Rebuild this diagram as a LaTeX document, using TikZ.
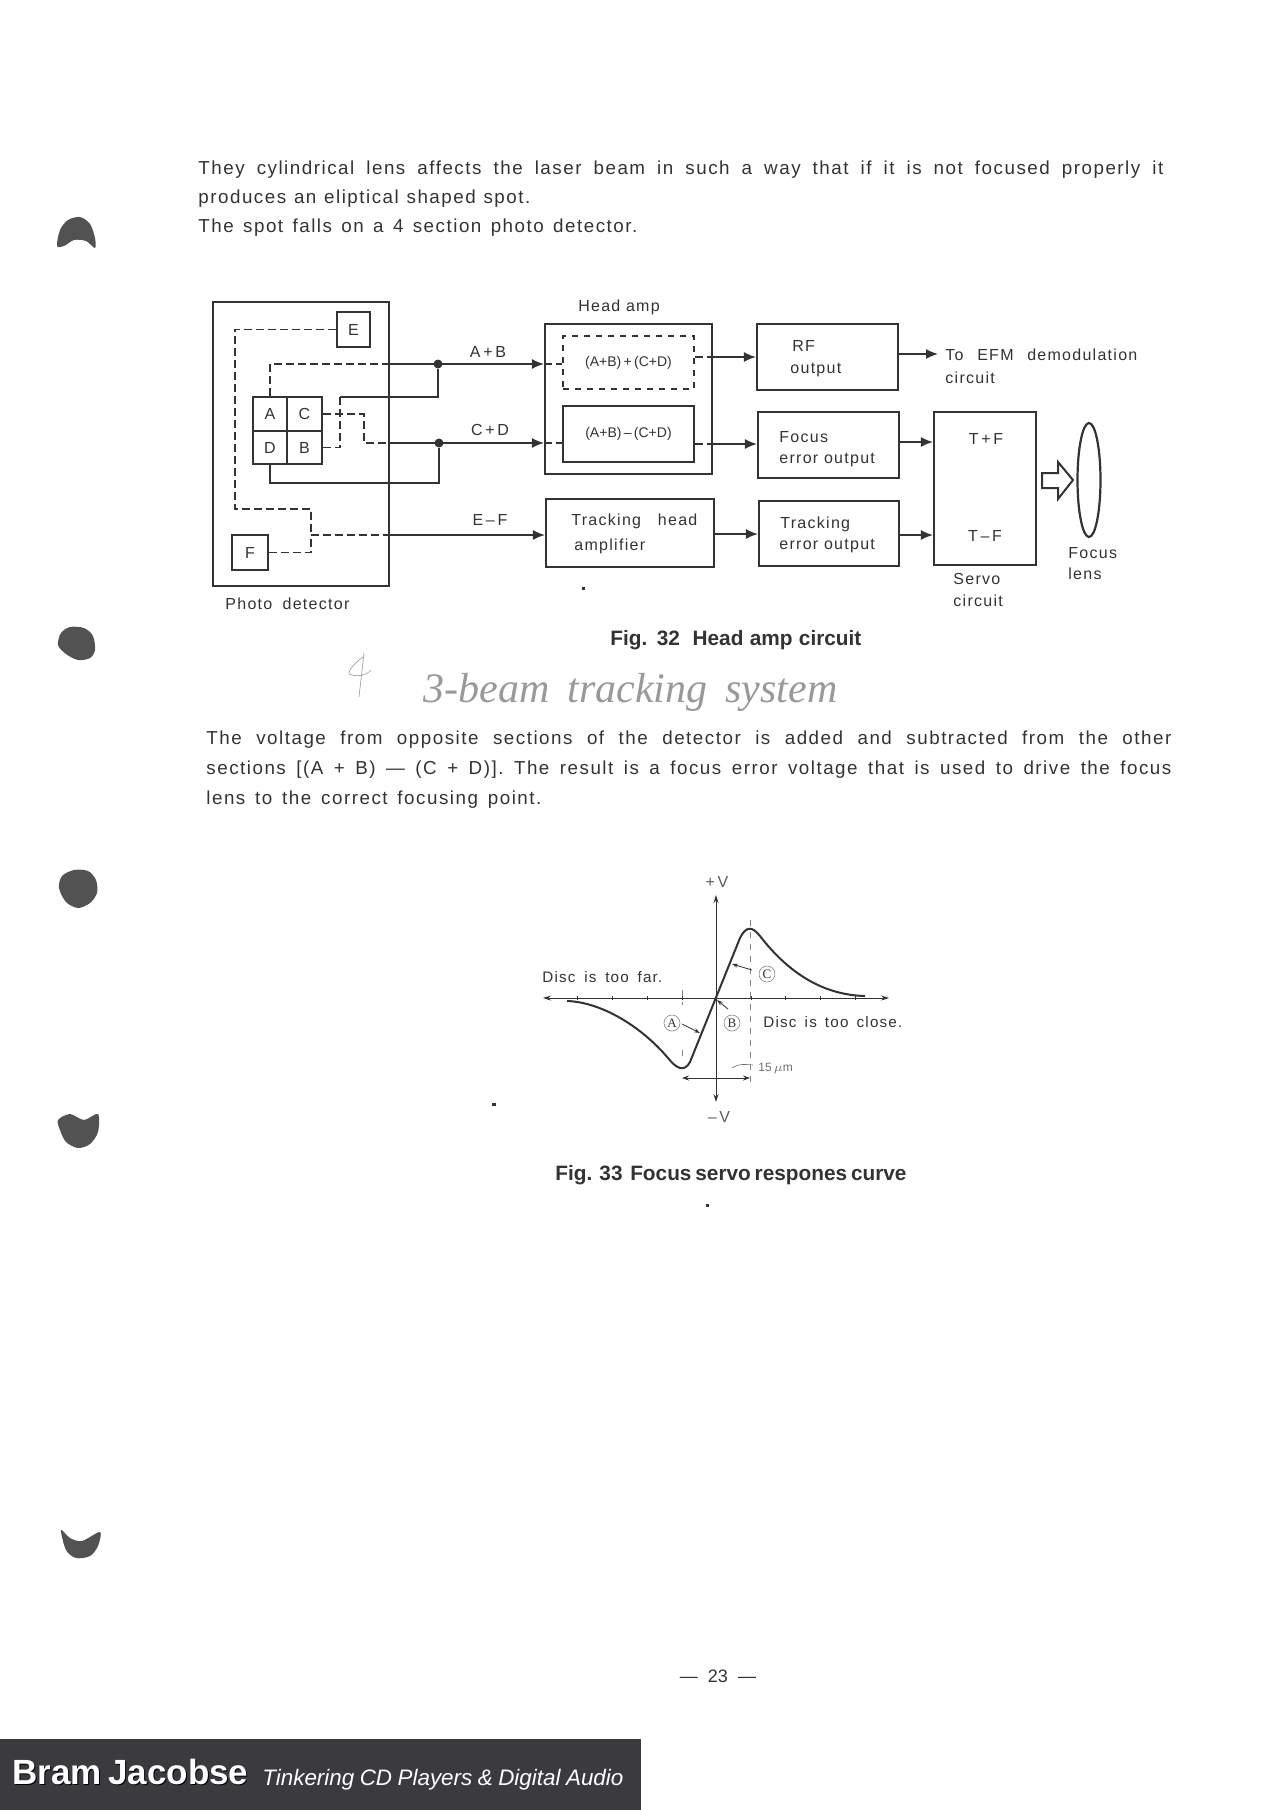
\documentclass[tikz,border=0pt]{standalone}
\usepackage{fontspec}
\setmainfont{Liberation Sans}
\newfontfamily\scanfont[LetterSpace=8]{Liberation Sans}
\newfontfamily\pencilfont{Liberation Serif}
\usetikzlibrary{arrows.meta,positioning,calc,shapes.geometric}
\definecolor{ink}{HTML}{333333}
\definecolor{banner}{HTML}{3A3A3F}
\newcommand{\fitline}[2]{\makebox[#1][s]{#2}}

\begin{document}
\begin{tikzpicture}[
    x=0.5pt, y=-0.5pt,
    line cap=butt,
    box/.style={rectangle, draw=ink, line width=1.1pt, inner sep=0pt},
    cell/.style={box, line width=0.9pt, font=\fontsize{8}{9}\scanfont, text=ink},
    lbl/.style={inner sep=0pt, font=\fontsize{8}{9}\scanfont, text=ink},
    lblw/.style={lbl, anchor=base west},
    para/.style={inner sep=0pt, anchor=base west, font=\fontsize{9.4}{11}\scanfont, text=ink},
    capt/.style={inner sep=0pt, anchor=base west, font=\fontsize{10.4}{12}\bfseries, text=ink},
    dashline/.style={ink, line width=0.7pt, dash pattern=on 4pt off 2pt},
    wire/.style={ink, line width=0.7pt},
    flow/.style={wire, -{Latex[length=6pt,width=5pt]}},
    dimflow/.style={ink, line width=0.4pt, -{Stealth[length=3pt,width=2pt]}},
    dimboth/.style={ink, line width=0.4pt, {Stealth[length=3.5pt,width=2.5pt]}-{Stealth[length=3.5pt,width=2.5pt]}},
    mark letter/.style={circle, draw=ink!60, line width=0.3pt, inner sep=0.6pt, minimum size=8pt, font=\fontsize{6.5}{7}\pencilfont, text=ink},
    junction/.style={circle, fill=ink, inner sep=0pt, minimum size=4.5pt},
    blob/.style={fill=black!68, draw=none},
    speck/.style={fill=ink, draw=none}
]
\useasboundingbox (0,0) rectangle (1280,1810);
\fill[white] (0,0) rectangle (1280,1810);

% punch holes
\fill[blob] plot[smooth cycle] coordinates {(57,246) (60,230) (68,220) (80,217) (90,224) (95,238) (95,248) (86,241) (74,240) (64,246)};
\fill[blob] plot[smooth cycle] coordinates {(58,645) (61,633) (70,627) (84,628) (93,636) (95,650) (90,658) (78,660) (66,654)};
\fill[blob] plot[smooth cycle] coordinates {(59,888) (62,876) (74,870) (88,871) (96,880) (97,893) (90,903) (78,908) (66,902)};
\fill[blob] plot[smooth cycle] coordinates {(58,1120) (70,1114) (84,1120) (98,1114) (98,1132) (90,1144) (78,1148) (66,1142) (60,1130)};
\fill[blob] plot[smooth cycle] coordinates {(61,1530) (70,1538) (82,1541) (100,1532) (98,1546) (90,1556) (76,1558) (66,1550)};

% upper paragraph
\node[para] (top1) at (198,174) {\fitline{482.5pt}{They cylindrical lens affects the laser beam in such a way that if it is not focused properly it}};
\node[para] (top2) at (198,203) {\fitline{166pt}{produces an eliptical shaped spot.}};
\node[para] (top3) at (198,232) {\fitline{219.5pt}{The spot falls on a 4 section photo detector.}};

% photo detector
\node[box, minimum width=88pt, minimum height=142pt] (pd) at (301,444) {};
\node[cell, minimum width=16.5pt, minimum height=17.5pt] (boxe) at (353.5,329.5) {E};
\node[cell, minimum width=18pt, minimum height=17.5pt] (boxf) at (250,552.5) {F};
\node[cell, minimum width=17pt, minimum height=17pt] (ca) at (270,414) {A};
\node[cell, minimum width=17.5pt, minimum height=17pt] (cc) at (304.5,414) {C};
\node[cell, minimum width=17pt, minimum height=16.5pt] (cd) at (270,447.5) {D};
\node[cell, minimum width=17.5pt, minimum height=16.5pt] (cb) at (304.5,447.5) {B};
\node[lblw] (pdlabel) at (225,609) {\fitline{62pt}{Photo detector}};

% head amp
\node[box, minimum width=83.5pt, minimum height=75pt] (head) at (628.5,399) {};
\node[box, dashed, line width=0.8pt, minimum width=65.5pt, minimum height=26.5pt, font=\fontsize{7}{8}\selectfont, text=ink] (sum) at (628.5,362.5) {(A+B)\,+\,(C+D)};
\node[box, line width=0.8pt, minimum width=65.5pt, minimum height=28pt, font=\fontsize{7}{8}\selectfont, text=ink] (diff) at (628.5,434) {(A+B)\,–\,(C+D)};
\node[lbl] (headlabel) at (619,307) {Head amp};
\node[box, minimum width=84pt, minimum height=34pt] (track) at (630,533) {};
\node[lblw] (track1) at (571,525) {\fitline{63pt}{Tracking ~ head}};
\node[lblw] (track2) at (574,550) {amplifier};

% outputs
\node[box, minimum width=70.5pt, minimum height=33pt] (rf) at (827.5,357) {};
\node[lblw] (rf1) at (792,351) {RF};
\node[lblw] (rf2) at (790,373) {output};
\node[box, minimum width=70.5pt, minimum height=33pt] (focus) at (828.5,445) {};
\node[lblw] (focus1) at (779,442) {Focus};
\node[lblw] (focus2) at (779,463) {error output};
\node[box, minimum width=70pt, minimum height=32.5pt] (terr) at (829,533.5) {};
\node[lblw] (terr1) at (780,528) {Tracking};
\node[lblw] (terr2) at (779,549) {error output};

% servo and lens
\node[box, minimum width=51pt, minimum height=76.5pt] (servo) at (985,488.5) {};
\node[lbl] (tplus) at (986,439) {T\,+\,F};
\node[lbl] (tminus) at (985,536) {T\,–\,F};
\node[lblw] (servo1) at (953,584) {Servo};
\node[lblw] (servo2) at (953,606) {circuit};
\node[ellipse, draw=ink, line width=1.1pt, minimum width=11.5pt, minimum height=57pt, inner sep=0pt] (lens) at (1089,480) {};
\node[lblw] (lens1) at (1068,558) {Focus};
\node[lblw] (lens2) at (1068,579) {lens};
\node[lblw] (efm1) at (945,360) {\fitline{96pt}{To EFM demodulation}};
\node[lblw] (efm2) at (945,383) {circuit};

% signal labels
\node[lbl] (ab) at (488,352) {A\,+\,B};
\node[lbl] (cdl) at (490,430) {C\,+\,D};
\node[lbl] (ef) at (490,520) {E\,–\,F};

% junctions
\node[junction] (dot1) at (438,364) {};
\node[junction] (dot2) at (439,443) {};
\coordinate (inab) at (head.west |- dot1);
\coordinate (incd) at (head.west |- dot2);
\coordinate (pdab) at (pd.east |- dot1);
\coordinate (pdcd) at (pd.east |- dot2);
\coordinate (jef) at (311,535);
\coordinate (pdef) at (pd.east |- jef);
\coordinate (inef) at (track.west |- jef);

% detector wiring
\draw[dashline] (boxe.west) -| (235,509) -| (jef);
\draw[dashline] (boxf.east) -| (jef);
\draw[dashline] (jef) -- (pdef);
\draw[flow] (pdef) -- (inef);
\draw[dashline] (ca.north) |- (pdab);
\draw[flow] (pdab) -- (inab);
\draw[wire] (dot1) |- (340,397);
\draw[dashline] (340,397) |- (cb.east);
\draw[dashline] (cc.east) -| (364,443) -- (pdcd);
\draw[flow] (pdcd) -- (incd);
\draw[wire] (cd.south) |- (dot2 |- 0,483) -- (dot2);

% head amp stubs and outputs
\draw[dashline] (inab) -- (sum.west |- inab);
\draw[dashline] (incd) -- (diff.west |- incd);
\draw[dashline] (sum.east |- 0,357) -- (head.east |- 0,357);
\draw[dashline] (diff.east |- 0,444) -- (head.east |- 0,444);
\draw[flow] (head.east |- 0,357) -- (rf.west |- 0,357);
\draw[flow] (head.east |- 0,444) -- (focus.west |- 0,444);
\draw[flow] (track.east |- 0,534) -- (terr.west |- 0,534);
\draw[flow] (rf.east |- 0,354) -- (938,354);
\draw[flow] (focus.east |- 0,442) -- (servo.west |- 0,442);
\draw[flow] (terr.east |- 0,535) -- (servo.west |- 0,535);
\draw[ink, line width=1pt, fill=white] (1042,473) -- (1058,473) -- (1058,462) -- (1073,480) -- (1058,499) -- (1058,488) -- (1042,488) -- cycle;

\node[capt] (fig32) at (610,645) {\fitline{125.5pt}{Fig. 32 ~Head amp circuit}};

% pencil note
\draw[black!40, line width=0.3pt] (364,653) -- (359,697);
\draw[black!40, line width=0.3pt] (363,657) .. controls (356,662) and (348,670) .. (349,674) .. controls (356,677) and (366,676) .. (371,670);
\node[inner sep=0pt, anchor=base west, font=\fontsize{21}{24}\pencilfont\itshape, text=black!40] (note) at (423,702) {\fitline{207pt}{3-beam tracking system}};

% lower paragraph
\node[para] (low1) at (206,744) {\fitline{482.5pt}{The voltage from opposite sections of the detector is added and subtracted from the other}};
\node[para] (low2) at (206,774) {\fitline{482.5pt}{sections [(A + B) — (C + D)]. The result is a focus error voltage that is used to drive the focus}};
\node[para] (low3) at (206,804) {\fitline{167.5pt}{lens to the correct focusing point.}};

% response curve
\coordinate (orig) at (716,998);
\draw[ink, line width=0.4pt, {Stealth[length=4pt,width=2.5pt]}-{Stealth[length=4pt,width=2.5pt]}] (543,998) -- (889,998);
\draw[ink, line width=0.5pt, {Stealth[length=4pt,width=2.5pt]}-{Stealth[length=4pt,width=2.5pt]}] (716,895) -- (716,1102);
\foreach \tick in {577,612,647,682,751,785,820,855}
    \draw[ink, line width=0.3pt] (\tick,996) -- (\tick,1000);
\draw[ink!60, line width=0.3pt, dashed] (682,990) -- (682,1005);
\draw[ink!60, line width=0.3pt, dashed] (682,1050) -- (682,1058);
\draw[ink!60, line width=0.3pt, dashed] (750,920) -- (750,1085);
\draw[ink, line width=1pt] (567,1001) .. controls (600,1002) and (640,1025) .. (668,1058) .. controls (676,1068) and (684,1073) .. (690,1062) -- (740,938) .. controls (746,926) and (752,926) .. (760,936) .. controls (790,975) and (825,995) .. (865,996);
\draw[dimboth] (682,1078) -- (750,1078);
\draw[dimflow] (752,970) -- (732,964);
\draw[dimflow] (682,1024) -- (700,1033);
\draw[dimflow] (728,1009) -- (717,1000);
\draw[ink!70, line width=0.3pt] (732,1068) .. controls (738,1064) and (742,1064) .. (753,1065);
\node[lbl, text=ink!80] (pv) at (717,882) {+\,V};
\node[lbl, text=ink!80] (mv) at (719,1117) {–\,V};
\node[lblw, font=\fontsize{7.6}{9}\scanfont] (far) at (542,982) {\fitline{60pt}{Disc is too far.}};
\node[lblw, font=\fontsize{7.6}{9}\scanfont] (close) at (763,1027) {\fitline{69.5pt}{Disc is too close.}};
\node[mark letter] (mc) at (767,974) {C};
\node[mark letter] (ma) at (672,1023) {A};
\node[mark letter] (mb) at (732,1023) {B};
\node[lblw, font=\fontsize{6}{7}\selectfont, text=ink!70] (um) at (758,1071) {15\,$\mu$m};

\node[capt] (fig33) at (555,1180) {\fitline{174.5pt}{Fig. 33 ~Focus servo respones curve}};
\node[inner sep=0pt, font=\fontsize{9}{11}\selectfont, text=ink] (pageno) at (718,1676) {--- \ 23 \ ---};

% specks
\fill[speck] (582,587) rectangle (585,590);
\fill[speck] (492,1103) rectangle (496,1106);
\fill[speck] (706,1204) rectangle (709,1207);

% footer
\fill[banner] (0,1739) rectangle (641,1810);
\node[inner sep=0pt, anchor=base west, font=\fontsize{17.5}{20}\bfseries, text=black] (namesh) at (13,1785) {\fitline{116.5pt}{Bram Jacobse}};
\node[inner sep=0pt, anchor=base west, font=\fontsize{17.5}{20}\bfseries, text=white] (name) at (12,1784) {\fitline{116.5pt}{Bram Jacobse}};
\node[inner sep=0pt, anchor=base west, font=\fontsize{11.2}{14}\itshape, text=white] (slogan) at (262,1785) {\fitline{180.5pt}{Tinkering CD Players \& Digital Audio}};
\end{tikzpicture}
\end{document}
